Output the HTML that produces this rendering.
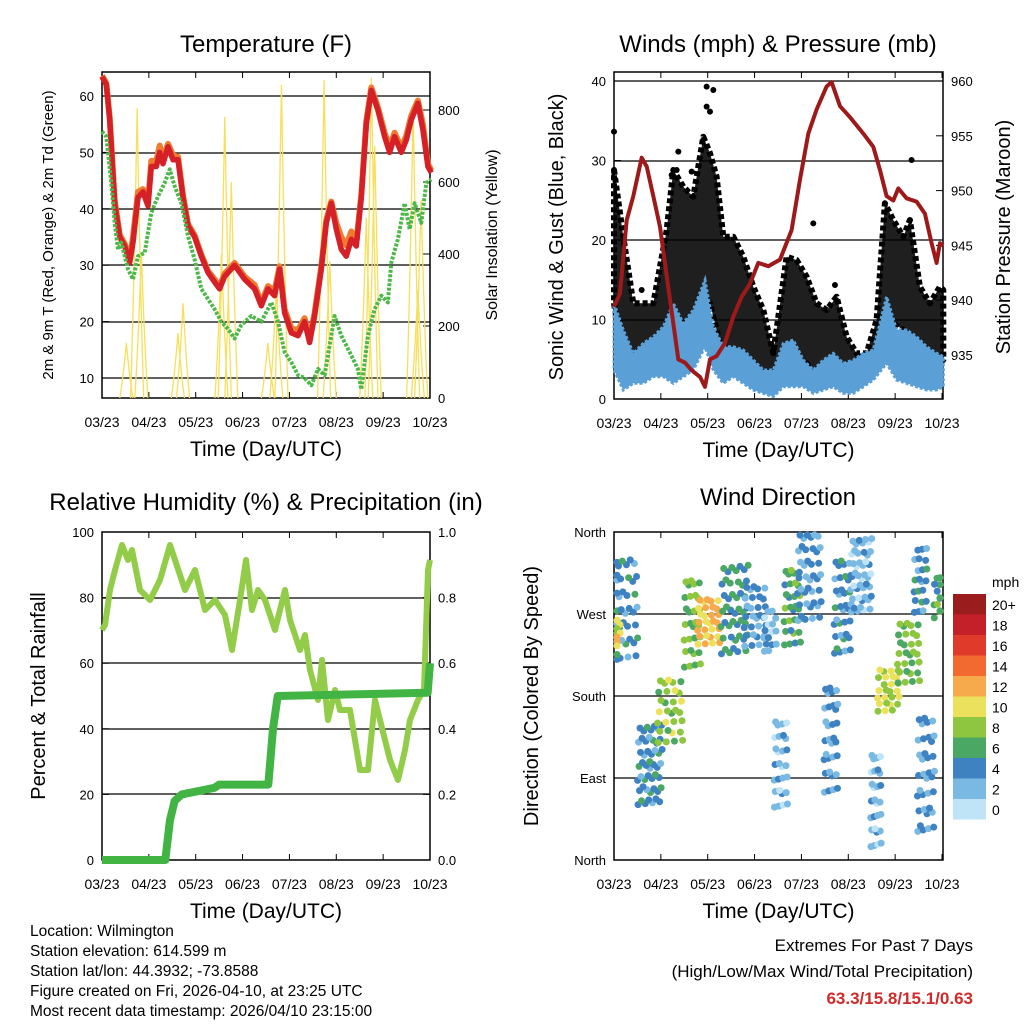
<!DOCTYPE html>
<html><head><meta charset="utf-8"><style>
body{margin:0;background:#fff}
svg{display:block;font-family:"Liberation Sans",sans-serif}
</style></head><body>
<svg id="c" width="1024" height="1024" viewBox="0 0 1024 1024" xmlns="http://www.w3.org/2000/svg">
<g id="g1"></g>
<g id="g2"></g>
<g id="g3"></g>
<g id="g4"></g>
<g id="gt"></g>
</svg>
<script>
// ---- data ----
const dateLabels=["03/23","04/23","05/23","06/23","07/23","08/23","09/23","10/23"];
const tempZX=[42,55,65,80,95,110,125,135,150,165,180,190,205,215,225,240,255,270,285,300,320,340,360,380,395,410,440,470,500,520,540,560,575,590,610,630,650,665,680,700,715,730,745,760,775,790,805,820,835,850,870,890,905,920,940,955,970,990,1005,1020,1030];
const tempRed=[63.4,62,55.8,41,35,33.4,30.5,34,42,43,40.5,47.5,47.5,50,48,51,48.7,48.7,42,37,35,31.6,28.7,27,25.8,28,30,27.5,25.8,22.8,25.8,24.6,29.3,21.6,18,17.5,20,16.3,21,29.3,37.5,41,36.4,32.8,31.6,34.6,33.4,42,55,61,57.5,52.8,50,52.8,50,52.2,55.8,58.7,54,47.5,46.4];
const tempOrange=[63.6,62.3,56.2,41.5,35.4,33.8,31,35,43,43.5,41,48.5,48.5,51.2,48.8,51.5,49.5,49.2,42.4,37.3,35.3,31.9,29,27.5,26.2,28.5,30.4,28,26.5,23.3,26.3,25.5,29.8,22.2,18.8,18.5,20.6,17,21.5,29.8,38,41.3,37.5,35,33.5,36,34,42.5,55.5,61.5,58,53.5,51,53.5,50.8,53,56.5,59.2,55,48,46.8];
const tdZX=[42,55,70,80,90,100,120,135,150,170,190,210,230,245,260,280,300,320,340,360,380,400,420,440,460,490,520,550,570,590,610,630,650,670,690,710,740,760,790,810,820,840,860,880,900,910,930,950,965,980,1000,1015,1030];
const tdVals=[53.7,52.8,44.6,37.5,32.8,34,29.3,27.5,31.6,32.2,39.3,42.2,44.6,47,44,41,35.2,31,25.8,24,22.2,20,18.7,17,19.4,21,20,23.4,20,14.6,12.8,10.5,10,8.7,11.6,10.5,21,17.5,14,11.6,8,17.5,22.2,24.6,23.4,30.5,34.6,41,36.4,41,37.5,44.6,45.2];
const solarDay=[0.52,0.75,0.84,1.62,1.73,2.55,2.62,2.76,3.54,3.72,3.83,4.74,4.86,5.64,5.75,5.82,6.64,6.74,6.81];
const solarPeak=[153,805,400,180,263,400,781,600,153,300,870,883,380,500,890,700,800,300,550];
const presZX=[12,30,50,70,95,110,130,150,170,190,205,225,245,270,285,300,320,345,370,395,420,445,475,510,545,570,595,620,650,665,690,720,760,790,810,830,850,865,890,920,945,965,980,990,1000];
const presVals=[939.4,940.6,947.3,949.5,953,952.2,949.5,946.7,942.2,937.9,934.6,934.3,933.6,933,932.1,934.6,934.9,936.1,938.5,940.3,941.5,943.4,943.1,943.7,946.4,951,955.2,957.4,959.5,959.9,957.7,956.7,955.2,954,951.9,949.5,949.1,950.2,949.3,949,947.9,945.2,943.4,945.2,945];
const windZX=[12,40,70,100,130,160,190,220,250,285,310,340,370,400,430,460,490,520,550,580,610,640,670,700,730,760,790,830,860,890,920,950,980,1000];
const windTopZ=[700,780,850,820,800,770,700,760,720,630,770,830,830,840,870,900,900,820,810,870,900,870,850,880,870,850,840,680,780,780,800,830,850,860];
const windBotZ=[900,960,940,940,920,920,940,920,900,830,900,940,920,940,960,970,980,950,950,950,970,960,950,970,970,950,930,880,930,940,950,960,960,950];
const gustZX=[12,40,70,100,130,170,190,220,250,280,300,320,340,370,400,430,460,490,530,560,590,620,650,680,710,740,770,800,825,850,880,900,930,960,990,1000];
const gustTopZ=[300,500,700,700,700,480,300,350,380,200,250,320,500,500,560,650,720,850,560,570,620,700,720,680,800,850,850,750,400,450,500,450,650,700,650,660];
const gustBotZ=[700,880,900,900,880,860,820,820,800,700,700,780,860,850,880,900,920,940,900,880,880,920,920,900,920,930,920,900,800,760,780,800,860,880,870,870];
const gustOutZX=[12,290,310,290,300,205,905,610,95,675,200,245,185];
const gustOutZY=[185,50,60,110,125,245,270,460,660,645,300,305,315];
const rhX=[102,105,110,115,122,128,132,140,150,160,170,175,185,195,205,215,225,232,240,246,252,258,265,275,285,290,300,305,310,318,322,328,335,340,350,360,368,375,380,390,398,405,410,418,424,428,430];
const rhY=[630,625,590,570,545,560,550,590,600,580,545,560,590,570,610,600,615,650,600,560,610,590,600,630,590,620,650,635,670,700,660,720,690,710,710,770,770,700,720,760,780,750,720,700,690,570,560];
const precipDay=[0,1.35,1.45,1.55,1.7,2.4,2.5,2.6,3.55,3.65,3.75,6.95,7];
const precipVals=[0,0,0.12,0.18,0.2,0.22,0.23,0.23,0.23,0.4,0.5,0.51,0.6];
const dirZX0=[42,42,120,180,260,300,370,440,500,530,560,600,680,710,760,820,840,900,950,960,1010];
const dirZX1=[110,60,180,250,300,360,440,500,530,560,600,660,710,750,810,840,900,960,980,1000,1030];
const dirZTop=[100,280,600,460,160,220,120,180,250,580,130,20,480,100,40,680,430,290,60,570,150];
const dirZBot=[400,340,830,640,420,340,380,350,360,840,350,280,800,380,250,960,540,460,250,920,260];
const dirSpeed=[4,10,4,8,7,11,5,3,2,2,6,3,3,4,2,2,9,7,4,3,6];
const dirCount=[40,10,50,30,30,30,45,30,15,28,30,40,32,36,45,28,26,30,22,36,12];
const cbLabels=["20+","18","16","14","12","10","8","6","4","2","0"];
const cbColors=["#9b1c1c","#c4202a","#e03a2a","#f26a30","#f7aa4c","#ece15c","#8ec63f","#4aa864","#3f82c2","#7ab9e2","#bfe4f8"];
const infoLines=["Location: Wilmington","Station elevation: 614.599 m","Station lat/lon: 44.3932; -73.8588","Figure created on Fri, 2026-04-10, at 23:25 UTC","Most recent data timestamp: 2026/04/10 23:15:00"];

// ---- helpers ----
const NS="http://www.w3.org/2000/svg";
function mk(parent,tag,attrs,name,txt){const e=document.createElementNS(NS,tag);for(const k in attrs)e.setAttribute(k,attrs[k]);


if(txt!==undefined)e.textContent=txt;parent.appendChild(e);return e;}
const g1=document.getElementById('g1'),g2=document.getElementById('g2'),g3=document.getElementById('g3'),g4=document.getElementById('g4'),gt=document.getElementById('gt');
const DPX=46.857;
const xL=d=>102+d*DPX, xR=d=>614+d*DPX;
const zxDay=zx=>(zx-42)/140.6, zxDay2=zx=>(zx-12)/140.6;
const yT=t=>96+(60-t)*5.64, yS=s=>398-s*0.36, yW=w=>399-w*7.95, yP=p=>81+(960-p)*10.96, yRH=v=>860-v*3.28, yPr=v=>860-v*328, yDir=d=>860-d/360*328;
function pts(xs,ys){return xs.map((x,i)=>x.toFixed(1)+","+ys[i].toFixed(1)).join(" ");}
function txt(p,x,y,s,anchor,name,t,extra){const a={x:x,y:y,'font-size':s,'text-anchor':anchor,fill:'#000'};if(extra)Object.assign(a,extra);return mk(p,'text',a,name,t);}
function frame(p,x0,y0,x1,y1,grid){
 grid.forEach(y=>mk(p,'line',{x1:x0,x2:x1,y1:y,y2:y,stroke:'#000','stroke-width':1.2},'grid-line'));
 mk(p,'rect',{x:x0,y:y0,width:x1-x0,height:y1-y0,fill:'none',stroke:'#000','stroke-width':1.5},'plot-frame');
 for(let i=0;i<8;i++){const x=x0+i*DPX;
  mk(p,'line',{x1:x,x2:x,y1:y1,y2:y1-6,stroke:'#000'},'x-tick');
  mk(p,'line',{x1:x,x2:x,y1:y0,y2:y0+6,stroke:'#000'},'x-tick');
  txt(p,x,y1+29,14,'middle','x-tick-label',dateLabels[i]);}
 txt(p,(x0+x1)/2,y1+58,21,'middle','x-axis-title','Time (Day/UTC)');
}
function ytick(p,x,y,side,lab,name){mk(p,'line',{x1:x,x2:x+(side<0?7:-7),y1:y,y2:y,stroke:'#000'},'y-tick');
 txt(p,x+side*8,y+5,13,side<0?'end':'start',name,lab);}
function rot(p,x,y,s,name,t){return txt(p,x,y,s,'middle',name,t,{transform:`rotate(-90 ${x} ${y})`});}

// ---- Panel 1 ----
frame(g1,102,72,430,398,[96,153,209,265,322,378]);
txt(g1,266,52,24,'middle','chart-title','Temperature (F)');
[60,50,40,30,20,10].forEach(t=>ytick(g1,102,yT(t),-1,String(t),'y-tick-label'));
[0,200,400,600,800].forEach(s=>ytick(g1,430,yS(s),1,String(s),'y2-tick-label'));
rot(g1,53,235,15,'y-axis-title','2m & 9m T (Red, Orange) & 2m Td (Green)');
rot(g1,497,235,16,'y2-axis-title','Solar Insolation (Yellow)');
solarDay.forEach((d,i)=>{const w=0.14,x0=xL(d-w),x1=xL(d),x2=xL(d+w);
 mk(g1,'path',{d:`M${x0},398 Q${(x0+x1)/2},${yS(solarPeak[i]*0.35)} ${x1},${yS(solarPeak[i])} Q${(x1+x2)/2},${yS(solarPeak[i]*0.35)} ${x2},398`,fill:'none',stroke:'#f7df5a','stroke-width':1.3},'solar-series');});
mk(g1,'polyline',{points:pts(tempZX.map(z=>xL(zxDay(z))),tempOrange.map(yT)),fill:'none',stroke:'#f07a30','stroke-width':6,'stroke-linejoin':'round'},'temp-9m-orange-series');
mk(g1,'polyline',{points:pts(tempZX.map(z=>xL(zxDay(z))),tempRed.map(yT)),fill:'none',stroke:'#d42026','stroke-width':5.5,'stroke-linejoin':'round'},'temp-2m-red-series');
mk(g1,'polyline',{points:pts(tdZX.map(z=>xL(zxDay(z))),tdVals.map(yT)),fill:'none',stroke:'#4cb848','stroke-width':4,'stroke-dasharray':'3 1.5','stroke-linejoin':'round'},'dewpoint-green-series');

// ---- Panel 2 ----
frame(g2,614,72,943,399,[81,161,240,320]);
txt(g2,778,52,24,'middle','chart-title','Winds (mph) & Pressure (mb)');
[40,30,20,10,0].forEach(w=>ytick(g2,614,yW(w),-1,String(w),'y-tick-label'));
[960,955,950,945,940,935].forEach(p=>ytick(g2,943,yP(p),1,String(p),'y2-tick-label'));
rot(g2,563,237,20,'y-axis-title','Sonic Wind & Gust (Blue, Black)');
rot(g2,1010,237,20,'y2-axis-title','Station Pressure (Maroon)');
const zW=z=>(329-z/3)/7.95;
{const xs=gustZX.map(z=>xR(zxDay2(z)));const top=gustTopZ.map(z=>yW(zW(z))),bot=gustBotZ.map(z=>yW(zW(z)));
 mk(g2,'polygon',{points:pts(xs,top)+" "+pts(xs.slice().reverse(),bot.slice().reverse()),fill:'#000','fill-opacity':0.88,stroke:'#000','stroke-width':6,'stroke-dasharray':'5 3','stroke-linejoin':'round'},'gust-black-points');}
gustOutZX.forEach((z,i)=>mk(g2,'circle',{cx:xR(zxDay2(z)),cy:yW(zW(gustOutZY[i])),r:3,fill:'#000'},'gust-point'));
{const xs=windZX.map(z=>xR(zxDay2(z)));const top=windTopZ.map(z=>yW(zW(z))),bot=windBotZ.map(z=>yW(zW(z)));
 mk(g2,'polygon',{points:pts(xs,top)+" "+pts(xs.slice().reverse(),bot.slice().reverse()),fill:'#5a9fd6',stroke:'#5a9fd6','stroke-width':3,'stroke-dasharray':'3 2'},'wind-blue-series');}
mk(g2,'polyline',{points:pts(presZX.map(z=>xR(zxDay2(z))),presVals.map(yP)),fill:'none',stroke:'#9e1a1a','stroke-width':4,'stroke-linejoin':'round'},'pressure-maroon-series');

// ---- Panel 3 ----
frame(g3,102,532,430,860,[598,663,729,794]);
txt(g3,266,510,24,'middle','chart-title','Relative Humidity (%) & Precipitation (in)');
[100,80,60,40,20,0].forEach(v=>ytick(g3,102,yRH(v),-1,String(v),'y-tick-label'));
[1,0.8,0.6,0.4,0.2,0].forEach(v=>ytick(g3,430,yPr(v),1,v.toFixed(1),'y2-tick-label'));
rot(g3,45,696,20,'y-axis-title','Percent & Total Rainfall');
const rhVals=rhY.map(y=>(860-y)/3.28);
mk(g3,'polyline',{points:pts(rhX,rhVals.map(yRH)),fill:'none',stroke:'#92cc48','stroke-width':6,'stroke-linejoin':'round'},'rh-series');
mk(g3,'polyline',{points:pts(precipDay.map(xL),precipVals.map(yPr)),fill:'none',stroke:'#42b444','stroke-width':8,'stroke-linejoin':'round'},'precip-series');

// ---- Panel 4 ----
frame(g4,614,532,943,860,[614,696,778]);
txt(g4,778,505,24,'middle','chart-title','Wind Direction');
["North","West","South","East","North"].forEach((l,i)=>ytick(g4,614,532+i*82,-1,l,'y-tick-label'));
rot(g4,538,696,20,'y-axis-title','Direction (Colored By Speed)');
function spColor(s){const idx=10-Math.max(0,Math.min(10,Math.round(s/2)));return cbColors[idx];}
const zDir=z=>(330-z/3)*1.0976;
dirZX0.forEach((z0,c)=>{const n=dirCount[c];
 for(let i=0;i<n;i++){const f=(0.5+i*0.7548777)%1, t=(0.5+i*0.5698403)%1;
  const zx=z0-8+(dirZX1[c]-z0+16)*f;
  const deg=zDir(dirZTop[c]-15+(dirZBot[c]-dirZTop[c]+30)*t);
  const sp=dirSpeed[c]+((i%5)-2)*0.7;
  mk(g4,'circle',{cx:Math.min(940,Math.max(617,xR(zxDay(zx)))),cy:Math.min(857,Math.max(535,yDir(deg))),r:3.5,fill:spColor(sp)},'direction-point');}});
cbColors.forEach((col,i)=>{mk(g4,'rect',{x:953,y:594+i*20.5,width:33,height:20.5,fill:col},'colorbar-box');
 txt(g4,992,610+i*20.5,14,'start','colorbar-label',cbLabels[i]);});
txt(g4,992,587,14,'start','colorbar-title','mph');

// ---- text ----
infoLines.forEach((l,i)=>txt(gt,30,936+i*20,15.5,'start','info-line',l));
txt(gt,973,951,17,'end','extremes-title','Extremes For Past 7 Days');
txt(gt,973,977,17,'end','extremes-subtitle','(High/Low/Max Wind/Total Precipitation)');
txt(gt,973,1004,17,'end','extremes-values','63.3/15.8/15.1/0.63',{fill:'#d02a2a','font-weight':'bold'});
</script>
</body></html>
